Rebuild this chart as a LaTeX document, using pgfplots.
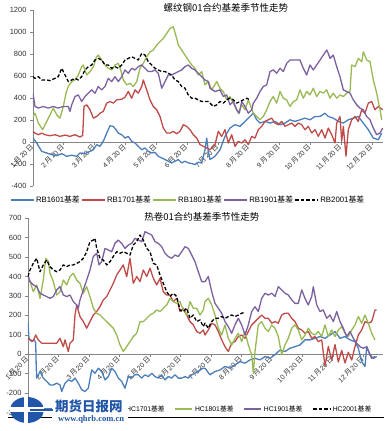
\documentclass[border=0pt]{standalone}
\usepackage{fontspec}
\setmainfont{Liberation Sans}
\newfontfamily\cjk{Noto Sans CJK SC}
\newfontfamily\serifb{Liberation Serif}
\usepackage{pgfplots}
\pgfplotsset{compat=1.18}
\definecolor{cblue}{HTML}{4A7EBB}
\definecolor{cred}{HTML}{BE4B48}
\definecolor{cgreen}{HTML}{98B954}
\definecolor{cpurple}{HTML}{7D60A0}
\definecolor{axisgray}{HTML}{868686}
\definecolor{logoblue}{HTML}{2256A8}
\newcommand\md[1]{#1\,{\cjk 月}\,20\,{\cjk 日}}
\pgfplotsset{
  excelaxis/.style={
    scale only axis, anchor=south west,
    axis y line*=left, axis x line*=middle,
    axis line style={draw=axisgray, line width=0.6pt},
    hide obscured x ticks=false, hide obscured y ticks=false,
    tick align=outside, major tick length=3pt,
    tick style={draw=axisgray, line width=0.6pt},
    yticklabel style={font=\fontsize{7.5}{8}\selectfont, text=black!80},
    xticklabel style={font=\fontsize{7}{8}\selectfont, rotate=45, anchor=east, inner sep=1pt, text=black!80},
    legend columns=5,
    every axis plot/.append style={line width=1.3pt, line join=round},
  },
  sb/.style={cblue}, sr/.style={cred}, sg/.style={cgreen}, sp/.style={cpurple},
  sk/.style={black, dash pattern=on 3.5pt off 2pt},
}
\begin{document}
\begin{tikzpicture}[x=1pt,y=1pt]
\useasboundingbox (0,0) rectangle (384,431);
% ---------------- top chart ----------------
\begin{axis}[excelaxis,
  at={(33pt,245pt)}, width=350pt, height=176pt,
  xmin=0, xmax=350, ymin=-400, ymax=1200,
  ytick={-400,-200,0,200,400,600,800,1000,1200},
  yticklabels={-400,-200,0,200,400,600,800,1000,1200},
  xtick={0,30.8,61.6,92.4,123.2,154,184.8,215.6,246.4,277.2,308,338.8},
  xticklabels={\md{1},\md{2},\md{3},\md{4},\md{5},\md{6},\md{7},\md{8},\md{9},\md{10},\md{11},\md{12}},
  title={\cjk 螺纹钢01合约基差季节性走势},
  title style={at={(0.551,0.977)}, anchor=center, font=\fontsize{9.5}{11}\selectfont},
  legend style={at={(-0.0657,-0.0795)}, anchor=west, draw=none, fill=none, inner sep=0pt,
    font=\fontsize{7.8}{9}\selectfont,
    /tikz/every even column/.append style={column sep=0pt},
    nodes={inner sep=1.5pt}},
  legend image code/.code={\draw[#1] (0pt,0pt) -- (23pt,0pt);},
]
\addplot[sb] coordinates {(0,36) (3.7,-9) (8.7,-85) (13.7,-100) (18.7,-115) (23.7,-124) (28.7,-106) (33.7,-130) (38.7,-120) (43.7,-130) (47,-100) (52,-106) (57,-85) (60.3,-70) (63.7,-24) (67,-39) (70.3,6) (73.7,80) (77,148) (80.3,142) (83,112) (85.3,81) (88.7,66) (92,36) (95.3,51) (98.7,6) (102,-9) (105.3,-40) (108.7,-70) (112,-54) (115.3,-85) (118.7,-100) (122,-94) (125.3,-130) (128.7,-145) (132,-160) (135.3,-175) (138.7,-190) (142,-175) (145.3,-160) (148.7,-190) (152,-175) (155.3,-190) (158.7,-196) (162,-205) (165.3,-184) (168.7,-190) (172,-70) (173.7,36) (175.3,-85) (177,-160) (182,-130) (187,-70) (192,51) (197,127) (202,157) (207,142) (212,187) (217,232) (220.3,262) (223.7,202) (227,172) (232,187) (237,172) (242,187) (247,157) (252,172) (257,202) (262,187) (267,202) (272,217) (277,202) (282,232) (287,232) (292,262) (295.3,232) (300.3,217) (305.3,187) (310.3,172) (315.3,202) (320.3,217) (325.3,232) (330.3,172) (335.3,112) (340.3,36) (345.3,21) (348.7,81)};
\addlegendentry{RB1601{\cjk 基差}}
\addplot[sr] coordinates {(0,97) (2,81) (5.3,66) (8.7,81) (12,66) (17,57) (22,66) (27,51) (32,63) (37,51) (42,66) (47,45) (49.7,60) (51,323) (53.7,338) (57,293) (60.3,217) (63.7,232) (67,262) (70.3,278) (73.7,353) (77,368) (80.3,353) (83.7,383) (88.7,389) (92,407) (95.3,459) (98.7,398) (102,474) (105.3,444) (108.7,504) (110.3,564) (113.7,474) (117,383) (120.3,323) (123.7,293) (127,232) (130.3,127) (133.7,81) (137,81) (140.3,97) (143.7,75) (147,97) (150.3,157) (153.7,142) (157,112) (160.3,66) (163.7,36) (167,-24) (170.3,-39) (173.7,-54) (177,-70) (182,-24) (185.3,97) (188.7,51) (192,112) (195.3,-9) (198.7,66) (202,-40) (205.3,6) (208.7,-9) (212,21) (215.3,-24) (218.7,51) (222,36) (225.3,112) (228.7,142) (232,187) (235.3,202) (238.7,217) (242,172) (245.3,157) (248.7,187) (252,142) (255.3,157) (258.7,172) (262,142) (265.3,172) (268.7,157) (272,112) (275.3,142) (278.7,81) (282,112) (285.3,51) (288.7,112) (292,36) (295.3,127) (298.7,66) (302,-9) (303.7,172) (307,232) (308.7,6) (310.3,142) (313,-130) (315.3,112) (318.7,202) (322,232) (325.3,187) (328.7,293) (332,262) (335.3,353) (338.7,368) (342,293) (345.3,323) (349.7,293)};
\addlegendentry{RB1701{\cjk 基差}}
\addplot[sg] coordinates {(0,232) (2,262) (5.3,172) (9.7,112) (13.7,187) (17,247) (20.3,308) (23.7,247) (27,217) (30.3,323) (33,443) (35.3,504) (38.7,549) (42,564) (45.3,609) (48.7,685) (50.3,700) (53.7,609) (57,640) (60.3,685) (63.7,775) (65.3,790) (68.7,745) (72,700) (75.3,670) (78.7,655) (82,700) (85.3,715) (87.7,655) (90.3,564) (93.7,519) (97,534) (100.3,504) (103.7,549) (107,670) (110.3,715) (113.7,775) (117,820) (120.3,836) (123.7,881) (127,911) (130.3,941) (133.7,987) (137,1032) (140.3,1047) (143.7,941) (145.3,881) (148.7,836) (152,790) (155.3,745) (158.7,700) (162,670) (165.3,609) (168.7,640) (172,519) (175.3,549) (178.7,474) (183.7,549) (187,489) (190.3,459) (193.7,383) (197,413) (200.3,353) (203.7,293) (205.3,262) (208.7,338) (212,293) (215.3,383) (220.3,262) (223.7,232) (227,202) (230.3,232) (233.7,293) (237,368) (240.3,413) (243.7,353) (247,459) (250.3,398) (253.7,383) (257,323) (260.3,368) (263.7,383) (267,474) (270.3,398) (273.7,459) (277,428) (280.3,489) (283.7,413) (287,459) (290.3,444) (293.7,474) (297,398) (300.3,444) (303.7,398) (307,428) (310.3,413) (313.7,444) (317,459) (318.7,700) (322,685) (325.3,760) (328.7,730) (330.3,820) (333.7,745) (337,730) (340.3,564) (343.7,444) (347,293) (348.7,202)};
\addlegendentry{RB1801{\cjk 基差}}
\addplot[sp] coordinates {(0,443) (2,323) (5.3,308) (10.3,323) (15.3,308) (20.3,323) (25.3,308) (30.3,323) (35.3,323) (37,278) (38.7,338) (42,413) (45.3,428) (48.7,368) (52,413) (55.3,443) (58.7,474) (62,443) (65.3,504) (68.7,474) (72,504) (75.3,579) (78.7,549) (82,594) (85.3,549) (88.7,594) (92,655) (95.3,625) (98.7,670) (102,655) (105.3,685) (108.7,700) (112,670) (115.3,640) (118.7,640) (122,655) (125.3,625) (128.7,489) (132,549) (135.3,609) (138.7,609) (142,625) (145.3,640) (148.7,655) (152,685) (155.3,700) (158.7,670) (162,655) (165.3,625) (168.7,594) (172,564) (175.3,549) (177,489) (182,459) (187,474) (190.3,413) (193.7,428) (197,338) (200.3,368) (203.7,293) (206.3,262) (208.7,368) (212,323) (215.3,262) (218.7,293) (220.3,353) (223.7,398) (227,459) (230.3,504) (233.7,519) (237,640) (240.3,655) (243.7,625) (247,670) (250.3,640) (253.7,715) (257,745) (262,745) (267,745) (270.3,670) (273.7,609) (277,700) (280.3,655) (283.7,700) (287,745) (290.3,790) (293.7,836) (295.3,805) (297,760) (300.3,790) (303.7,685) (307,594) (310.3,474) (313.7,459) (317,444) (320.3,383) (323.7,338) (327,308) (330.3,293) (333.7,232) (337,202) (340.3,127) (343.7,66) (347,81) (349.7,127)};
\addlegendentry{RB1901{\cjk 基差}}
\addplot[sk] coordinates {(0,594) (2,579) (5.3,594) (8.7,564) (13.7,564) (17,558) (22,579) (25.3,594) (28.7,670) (32,609) (35.3,549) (38.7,564) (42,579) (45.3,564) (48.7,594) (52,655) (55.3,685) (58.7,700) (62,745) (65.3,760) (68.7,745) (72,700) (75.3,700) (78.7,670) (82,685) (85.3,670) (88.7,700) (92,745) (95.3,760) (98.7,775) (102,760) (105.3,745) (108.7,805) (112,790) (115.3,730) (118.7,700) (122,670) (125.3,655) (128.7,640) (132,640) (135.3,625) (138.7,609) (142,564) (145.3,549) (148.7,504) (152,489) (155.3,428) (158.7,398) (162,398) (165.3,383) (168.7,368) (172,368) (175.3,368) (177,353) (180.3,323) (183.7,338) (187,368) (190.3,353) (193.7,383) (197,398) (200.3,383) (203.7,353) (207,368) (210.3,383) (213.7,398) (217,383)};
\addlegendentry{RB2001{\cjk 基差}}
\end{axis}
% ---------------- bottom chart ----------------
\begin{axis}[excelaxis,
  at={(28pt,18.5pt)}, width=355pt, height=194.2pt,
  xmin=0, xmax=355, ymin=-300, ymax=700,
  ytick={-300,-200,-100,0,100,200,300,400,500,600,700},
  yticklabels={-300,-200,-100,0,100,200,300,400,500,600,700},
  xtick={0,30.5,61,91.5,122,152.5,183,213.5,244,274.5,305,335.5},
  xticklabels={\md{1},\md{2},\md{3},\md{4},\md{5},\md{6},\md{7},\md{8},\md{9},\md{10},\md{11},\md{12}},
  title={\cjk 热卷01合约基差季节性走势},
  title style={at={(0.49,0.976)}, anchor=center, font=\fontsize{9.5}{11}\selectfont},
  legend style={at={(0.025,0.018)}, anchor=west, draw=none, fill=none, inner sep=0pt,
    font=\fontsize{6.8}{8}\selectfont,
    /tikz/every even column/.append style={column sep=8pt}},
  legend image code/.code={\draw[#1] (0pt,0pt) -- (17pt,0pt);},
]
\addplot[sb] coordinates {(0,160) (0.5,120) (1,82) (3.7,65) (6.3,74) (7.7,60) (8.2,-60) (8.7,-123) (12,-89) (15.3,-123) (18.7,-140) (22,-158) (25.3,-158) (28.7,-149) (32,-158) (33.7,-192) (37,-149) (40.3,-132) (43.7,-140) (47,-123) (50.3,-149) (53.7,-183) (57,-192) (60.3,-175) (63.7,-81) (67,-98) (70.3,-72) (73.7,-89) (77,-132) (80.3,-115) (83.7,-72) (87,-89) (90.3,-123) (93.7,-140) (97,-175) (100.3,-115) (103.7,-123) (107,-106) (110.3,-106) (113.7,-123) (117,-106) (120.3,-115) (123.7,-98) (127,-115) (130.3,-123) (133.7,-106) (137,-132) (140.3,-115) (143.7,-123) (147,-106) (150.3,-123) (153.7,-123) (157,-115) (160.3,-123) (163.7,-106) (167,-98) (170.3,-89) (173.7,-72) (177,-72) (182,-106) (187,-89) (192,-81) (197,-63) (202,-72) (207,-55) (212,-38) (217,-46) (222,-29) (227,-21) (232,-29) (237,-12) (242,-21) (247,-3) (252,22) (257,14) (262,31) (267,39) (272,48) (277,74) (282,74) (287,82) (292,91) (297,82) (302,99) (307,117) (312,82) (317,91) (322,74) (327,65) (330.3,31) (333.7,-38) (337,-63) (338.7,39) (342,-3) (345.3,-21) (348.7,-12)};
\addlegendentry{HC1601{\cjk 基差}}
\addplot[sr] coordinates {(0,82) (2,74) (5.3,69) (7.7,99) (10.3,74) (13.7,57) (18.7,57) (23.7,57) (28.7,57) (32,82) (35.3,39) (37,74) (40.3,14) (42,57) (45.3,74) (47,202) (48.7,254) (52,194) (55.3,168) (58.7,134) (62,168) (65.3,202) (68.7,220) (72,245) (75.3,280) (78.7,297) (82,331) (85.3,365) (88.7,408) (92,434) (95.3,460) (98.7,400) (102,494) (105.3,365) (108.7,400) (112,374) (115.3,434) (118.7,400) (122,443) (125.3,391) (128.7,357) (132,391) (135.3,322) (138.7,305) (142,305) (145.3,271) (148.7,288) (152,220) (155.3,237) (158.7,202) (162,168) (165.3,151) (168.7,117) (172,108) (175.3,125) (177,99) (180.3,125) (183.7,160) (187,151) (190.3,117) (193.7,74) (197,39) (200.3,14) (203.7,57) (207,65) (210.3,91) (213.7,99) (217,82) (220.3,117) (223.7,151) (227,168) (230.3,185) (233.7,202) (237,185) (240.3,185) (243.7,160) (247,168) (250.3,160) (253.7,202) (257,211) (260.3,211) (263.7,185) (267,168) (270.3,134) (273.7,125) (277,108) (280.3,117) (283.7,82) (287,91) (290.3,65) (293.7,74) (297,-60) (300.3,40) (303.7,-30) (307,50) (310.3,-40) (313.7,20) (317,-45) (320.3,10) (323.7,-30) (327,40) (330.3,99) (333.7,125) (337,168) (340.3,160) (343.7,168) (347,228) (348.7,228)};
\addlegendentry{HC1701{\cjk 基差}}
\addplot[sg] coordinates {(0,400) (2,374) (5.3,322) (8.7,357) (12,288) (15.3,382) (17.7,494) (20.3,477) (22,417) (25.3,374) (28.7,305) (32,322) (35.3,382) (38.7,357) (42,400) (45.3,417) (48.7,382) (52,365) (55.3,314) (58.7,348) (62,297) (65.3,237) (68.7,211) (72,202) (75.3,185) (78.7,168) (82,151) (85.3,134) (88.7,99) (92,48) (95.3,14) (98.7,39) (102,65) (105.3,91) (108.7,108) (112,168) (115.3,168) (118.7,185) (122,202) (125.3,211) (128.7,228) (132,220) (135.3,237) (138.7,254) (142,288) (145.3,271) (148.7,262) (152,271) (155.3,228) (158.7,202) (162,271) (165.3,237) (168.7,237) (172,202) (175.3,228) (177,271) (180.3,288) (183.7,254) (187,202) (190.3,134) (193.7,99) (197,151) (200.3,82) (203.7,48) (207,82) (210.3,108) (213.7,65) (217,117) (220.3,48) (223.7,-3) (225.3,-98) (227,14) (230.3,151) (233.7,168) (237,134) (240.3,117) (243.7,151) (247,134) (250.3,91) (253.7,-3) (257,48) (260.3,82) (263.7,134) (267,151) (270.3,125) (273.7,74) (277,99) (280.3,134) (283.7,108) (287,99) (290.3,117) (293.7,91) (297,151) (300.3,91) (303.7,125) (307,91) (310.3,125) (313.7,142) (317,108) (320.3,91) (323.7,125) (327,151) (330.3,194) (333.7,160) (337,202) (340.3,160) (343.7,108) (347,74)};
\addlegendentry{HC1801{\cjk 基差}}
\addplot[sp] coordinates {(0,408) (2,374) (5.3,357) (8.7,348) (12,314) (15.3,305) (18.7,297) (22,288) (25.3,297) (28.7,331) (32,348) (35.3,305) (38.7,297) (42,305) (45.3,271) (48.7,254) (50.3,237) (52,280) (55.3,331) (58.7,382) (62,434) (65.3,503) (68.7,520) (71,460) (73.7,477) (77,545) (80.3,537) (83.7,528) (87,571) (90.3,588) (93.7,571) (97,545) (100.3,562) (103.7,571) (107,597) (110.3,588) (113.7,580) (117,631) (120.3,623) (123.7,614) (127,580) (130.3,571) (133.7,554) (137,520) (140.3,503) (143.7,494) (147,511) (150.3,503) (153.7,528) (157,554) (160.3,545) (163.7,511) (167,477) (170.3,425) (173.7,374) (177,374) (180.3,400) (183.7,322) (187,262) (190.3,237) (193.7,211) (197,168) (200.3,142) (203.7,108) (207,151) (210.3,185) (213.7,151) (217,99) (220.3,151) (223.7,220) (227,245) (230.3,220) (233.7,288) (237,314) (240.3,305) (243.7,314) (247,297) (250.3,348) (253.7,331) (257,314) (260.3,305) (263.7,280) (267,262) (270.3,262) (273.7,331) (277,288) (280.3,254) (283.7,297) (285.3,348) (288.7,254) (292,220) (295.3,228) (298.7,185) (302,202) (305.3,168) (308.7,220) (312,168) (315.3,134) (318.7,91) (322,117) (325.3,82) (328.7,57) (332,39) (335.3,31) (338.7,39) (342,-3) (343.7,-21) (347,-12)};
\addlegendentry{HC1901{\cjk 基差}}
\addplot[sk] coordinates {(0,400) (2,434) (5.3,468) (8.7,494) (12,425) (15.3,460) (18.7,485) (22,451) (25.3,434) (28.7,425) (32,434) (35.3,460) (38.7,451) (42,460) (45.3,460) (48.7,468) (52,477) (55.3,494) (58.7,528) (62,580) (65.3,588) (67,597) (68.7,545) (72,494) (75.3,485) (78.7,460) (82,477) (85.3,503) (88.7,528) (92,520) (95.3,528) (98.7,520) (102,511) (105.3,563) (108.7,580) (112,614) (115.3,588) (118.7,545) (122,528) (125.3,468) (128.7,460) (132,408) (135.3,365) (138.7,322) (142,297) (145.3,314) (148.7,297) (152,228) (155.3,220) (158.7,237) (162,185) (165.3,202) (168.7,168) (172,177) (175.3,142) (177,160) (180.3,134) (183.7,168) (187,185) (190.3,185) (193.7,194) (197,185) (200.3,194) (203.7,202) (207,194) (210.3,202) (213.7,211) (216.3,216)};
\addlegendentry{HC2001{\cjk 基差}}
\end{axis}
% ---------------- footer line and logo ----------------
\draw[black, line width=1pt] (8,13) -- (384,13);
\fill[white] (52,4) rectangle (128,34);
\fill[logoblue] (27,21) ellipse [x radius=17, y radius=13];
\fill[white] (10,19) rectangle (44,23.5);
\fill[white] (24,8) rectangle (28,34);
\draw[logoblue, line width=2pt] (30,21.2) -- (53,21.2);
\node[anchor=west, inner sep=0pt, text=logoblue, font=\cjk\bfseries\fontsize{13.5}{14}\selectfont] at (55,25) {期货日报网};
\node[anchor=west, inner sep=0pt, text=logoblue, font=\serifb\bfseries\fontsize{8.5}{9}\selectfont] at (58,11.5) {www.qhrb.com.cn};
\end{tikzpicture}
\end{document}
